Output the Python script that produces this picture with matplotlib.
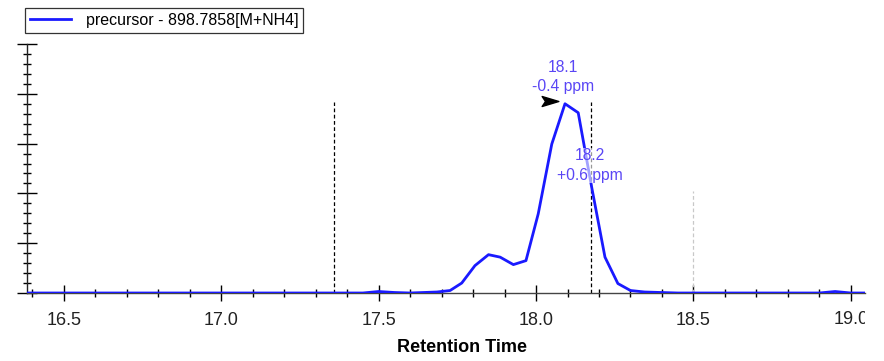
import matplotlib
matplotlib.use("Agg")
import matplotlib.pyplot as plt
from matplotlib.transforms import Bbox, TransformedBbox, blended_transform_factory
from matplotlib.path import Path

plt.rcParams['font.family'] = ['Liberation Sans', 'DejaVu Sans']

# Data (retention time in minutes, intensity in arbitrary units)
rt = [16.38, 16.80, 17.20, 17.45, 17.50, 17.55, 17.60, 17.685, 17.727, 17.764,
      17.806, 17.849, 17.886, 17.928, 17.968, 18.007, 18.050, 18.092, 18.134,
      18.176, 18.219, 18.260, 18.300, 18.345, 18.45, 18.70, 18.90, 18.95,
      19.00, 19.05]
intensity = [0.0, 0.0, 0.0, 0.0, 0.03, 0.01, 0.0, 0.02, 0.05, 0.20,
             0.55, 0.77, 0.72, 0.57, 0.65, 1.59, 2.99, 3.80, 3.62,
             2.15, 0.72, 0.19, 0.05, 0.02, 0.0, 0.0, 0.0, 0.03,
             0.0, 0.0]
series_label = "precursor - 898.7858[M+NH4]"
xticks = [16.5, 17.0, 17.5, 18.0, 18.5, 19.0]
xtick_labels = ["16.5", "17.0", "17.5", "18.0", "18.5", "19.0"]
boundary_lines = [17.359, 18.175]
boundary_top = 3.84
ref_line = 18.5
ref_top = 2.05
peak_ann = [(18.092, "18.1\n-0.4 ppm"), (18.175, "18.2\n+0.6 ppm")]
arrow_pos = (18.045, 3.86)

W, H = 884, 361
fig = plt.figure(figsize=(W / 100, H / 100), dpi=100)
ax = fig.add_axes([27 / W, 1 - 293 / H, (865 - 27) / W, (293 - 44) / H])

ax.set_xlim(16.383, 19.045)
ax.set_ylim(0, 5.0)

line, = ax.plot(rt, intensity, color='#1a1aff', lw=2.0, zorder=3,
                label=series_label)

for x in boundary_lines:
    ax.plot([x, x], [0, boundary_top], color='black', lw=0.9,
            linestyle=(0, (3, 2)), zorder=2)
ax.plot([ref_line, ref_line], [0, ref_top], color='#c8c8c8', lw=0.9,
        linestyle=(0, (3, 2)), zorder=2)

txt_color = '#5a46f5'
ax.text(peak_ann[0][0] - 0.005, 4.34, peak_ann[0][1], ha='center', va='center',
        color=txt_color, fontsize=11.3, linespacing=1.35, zorder=5)
ax.text(peak_ann[1][0] - 0.003, 2.56, peak_ann[1][1], ha='center', va='center',
        color=txt_color, fontsize=11.3, linespacing=1.35, zorder=5,
        bbox=dict(facecolor='white', edgecolor='none', alpha=0.6, pad=0.3))

arrow_marker = Path([(-1, 0.6), (1, 0), (-1, -0.6), (-0.6, 0), (-1, 0.6)],
                    [Path.MOVETO, Path.LINETO, Path.LINETO, Path.LINETO, Path.CLOSEPOLY])
ax.plot([arrow_pos[0]], [arrow_pos[1]], marker=arrow_marker, color='black',
        markersize=12, zorder=6, clip_on=False, linestyle='none')

# spines
for s in ['top', 'right']:
    ax.spines[s].set_visible(False)
ax.spines['left'].set_color('#222222')
ax.spines['bottom'].set_color('#444444')
ax.spines['left'].set_linewidth(1.0)
ax.spines['bottom'].set_linewidth(1.0)

ax.set_xticks(xticks)
ax.set_xticklabels(xtick_labels[:-1] + [""])
minor_x = [round(16.4 + 0.1 * i, 1) for i in range(27)]
ax.set_xticks([v for v in minor_x if v not in xticks], minor=True)
ax.set_yticks([0, 1, 2, 3, 4, 5])
ax.set_yticks([i * 0.2 for i in range(26) if i % 5 != 0], minor=True)
ax.set_yticklabels([])
ax.tick_params(axis='x', which='major', direction='inout', length=12, width=1,
               labelsize=13, pad=8, color='black', labelcolor='#222222')
ax.tick_params(axis='x', which='minor', direction='inout', length=6, width=1,
               color='black')
ax.tick_params(axis='y', which='major', direction='inout', length=14, width=1,
               color='black')
ax.tick_params(axis='y', which='minor', direction='inout', length=6, width=1,
               color='black')

# last tick label, clipped at the axis edge like the reference
clip = TransformedBbox(Bbox([[0, 0], [865 / W, 1]]), fig.transFigure)
trans = blended_transform_factory(ax.transData, fig.transFigure)
t = ax.text(xticks[-1], 1 - 320 / H, xtick_labels[-1], transform=trans,
            ha='center', va='center', fontsize=13, color='#222222')
t.set_clip_on(True)
t.set_clip_box(clip)

ax.set_xlabel("Retention Time", fontsize=13, fontweight='bold')
ax.xaxis.set_label_coords((462 - 27) / (865 - 27), -(348 - 293) / (293 - 44))
ax.xaxis.label.set_va('center')

leg = fig.legend(handles=[line], loc='upper left',
                 bbox_to_anchor=(25 / W, 1 - 8 / H), frameon=True,
                 fancybox=False, edgecolor='black', fontsize=11.5,
                 handlelength=2.6, borderpad=0.3, handletextpad=0.9,
                 borderaxespad=0)
leg.get_frame().set_linewidth(0.9)

fig.savefig("out.png", dpi=100)
